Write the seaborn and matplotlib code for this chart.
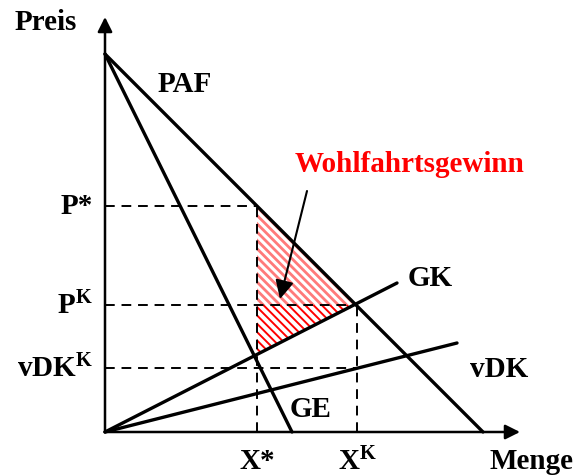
import matplotlib
matplotlib.use("Agg")
import matplotlib.pyplot as plt
import seaborn as sns
import pandas as pd
from matplotlib.patches import Polygon

# ---- data (schematic) ----
paf_x = [0, 378]; paf_y = [378, 0]
ge_x = [0, 187];  ge_y = [378, 0]
gk_x = [0, 292];  gk_y = [0, 149]
vdk_x = [0, 352]; vdk_y = [0, 89]
x_star, x_k = 152, 252
p_star, p_k, vdk_k = 226, 127, 64
axis_end = 415

sns.set_style("white")
plt.rcParams['font.family'] = ['Liberation Serif', 'DejaVu Serif']
plt.rcParams['font.weight'] = 'bold'
plt.rcParams['mathtext.fontset'] = 'custom'
plt.rcParams['mathtext.rm'] = 'Liberation Serif:bold'
plt.rcParams['mathtext.it'] = 'Liberation Serif:bold'
plt.rcParams['mathtext.bf'] = 'Liberation Serif:bold'
plt.rcParams['hatch.linewidth'] = 2.0

fig = plt.figure(figsize=(5.79, 4.77), dpi=100)
ax = fig.add_axes([0, 0, 1, 1])
ax.set_xlim(-105, 474)
ax.set_ylim(-44, 433)
ax.axis('off')

# hatched welfare-gain areas
gk_slope = gk_y[1] / gk_x[1]
upper = Polygon([(x_star, p_star), (x_star, p_k), (x_k, p_k)], closed=True,
                facecolor='none', edgecolor='#ff7a7a', hatch='\\\\\\\\', lw=0, zorder=1)
lower = Polygon([(x_star, p_k), (x_k, p_k), (x_star, gk_slope * x_star)], closed=True,
                facecolor='none', edgecolor='#ff0000', hatch='\\\\\\\\', lw=0, zorder=1)
if hasattr(lower, 'set_hatch_linewidth'):
    upper.set_hatch_linewidth(2.0)
    lower.set_hatch_linewidth(1.4)
ax.add_patch(upper)
ax.add_patch(lower)

# dashed guide lines
dash = dict(color='black', lw=1.4, ls=(0, (5, 3.5)), zorder=2)
ax.plot([0, x_star], [p_star, p_star], **dash)
ax.plot([x_star, x_star], [0, p_star], **dash)
ax.plot([0, x_k], [p_k, p_k], **dash)
ax.plot([x_k, x_k], [0, p_k], **dash)
ax.plot([0, x_k], [vdk_k, vdk_k], **dash)

# main lines
lines = pd.concat([
    pd.DataFrame({'x': paf_x, 'y': paf_y, 'k': 'PAF'}),
    pd.DataFrame({'x': ge_x, 'y': ge_y, 'k': 'GE'}),
    pd.DataFrame({'x': gk_x, 'y': gk_y, 'k': 'GK'}),
    pd.DataFrame({'x': vdk_x, 'y': vdk_y, 'k': 'vDK'}),
])
sns.lineplot(data=lines, x='x', y='y', units='k', estimator=None, color='black',
             lw=2.4, ax=ax, legend=False, sort=False, zorder=3)

# axes with arrows
arr = dict(arrowstyle='-|>', lw=1.8, color='black', mutation_scale=22, shrinkA=0, shrinkB=0)
ax.annotate('', xy=(axis_end, 0), xytext=(0, 0), arrowprops=arr)
ax.annotate('', xy=(0, axis_end), xytext=(0, 0), arrowprops=arr)

fs = 21
txt = dict(fontsize=fs, fontweight='bold', color='black')
ax.text(-90, 411, 'Preis', ha='left', va='center', **txt)
ax.text(53, 348, 'PAF', ha='left', va='center', **txt)
ax.text(-12, p_star, 'P*', ha='right', va='center', **txt)
ax.text(-12, p_k, r'$\mathrm{P^K}$', ha='right', va='center', **txt)
ax.text(-12, vdk_k, r'$\mathrm{vDK^K}$', ha='right', va='center', **txt)
ax.text(303, 155, 'GK', ha='left', va='center', **txt)
ax.text(365, 63, 'vDK', ha='left', va='center', **txt)
ax.text(185, 23, 'GE', ha='left', va='center', **txt)
ax.text(x_star, -29, 'X*', ha='center', va='center', **txt)
ax.text(x_k, -29, r'$\mathrm{X^K}$', ha='center', va='center', **txt)
ax.text(384, -29, 'Menge', ha='left', va='center', **txt)
ax.text(190, 268, 'Wohlfahrtsgewinn', ha='left', va='center', fontsize=fs,
        fontweight='bold', color='#ff0000')

ax.annotate('', xy=(175, 133), xytext=(202, 241),
            arrowprops=dict(arrowstyle='-|>', lw=1.5, color='black',
                            mutation_scale=28, shrinkA=0, shrinkB=0))

fig.savefig('out.png', dpi=100)
